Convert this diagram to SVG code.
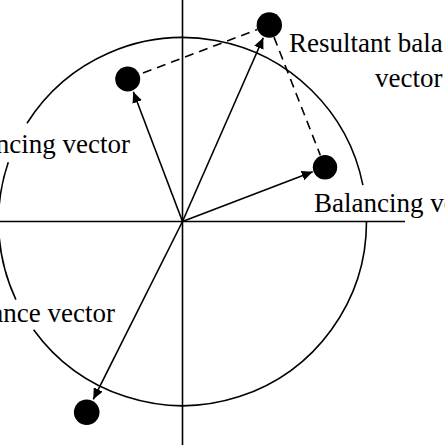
<svg xmlns="http://www.w3.org/2000/svg" width="445" height="445" viewBox="0 0 445 445">
<style>
.ax{stroke:#000;stroke-width:1.6;fill:none}
.circ{stroke:#000;stroke-width:1.6;fill:none}
.vec{stroke:#000;stroke-width:1.6;fill:none;marker-end:url(#ah)}
.dash{stroke:#000;stroke-width:1.6;fill:none;stroke-dasharray:9 6}
.dot{fill:#000}
.lbl{font-family:"Liberation Serif","Times New Roman",serif;font-size:27px;fill:#000}
</style>
<defs>
<marker id="ah" markerUnits="userSpaceOnUse" markerWidth="12" markerHeight="10" refX="11" refY="5" orient="auto">
<path d="M0,0 L11,5 L0,10 z" fill="#000"/>
</marker>
</defs>
<rect width="445" height="445" fill="#fff"/>
<g id="axes">
<line class="ax" x1="182.5" y1="0" x2="182.5" y2="445"/>
<line class="ax" x1="0" y1="221.5" x2="405" y2="221.5"/>
</g>
<g id="circle">
<path class="circ" d="M362.9 185.1 A184 184 0 0 0 27.0 123.2"/>
<path class="circ" d="M8.3 162.2 A184 184 0 0 0 15.9 299.6"/>
<path class="circ" d="M33.6 329.7 A184 184 0 0 0 366.5 221.5"/>
</g>
<g id="connectors">
<line class="vec" x1="182.5" y1="221.5" x2="133.3" y2="91.7"/>
<line class="vec" x1="182.5" y1="221.5" x2="263.3" y2="37.7"/>
<line class="vec" x1="182.5" y1="221.5" x2="312.7" y2="171.7"/>
<line class="vec" x1="182.5" y1="221.5" x2="93.3" y2="399.3"/>
<line class="dash" x1="143" y1="73" x2="257.2" y2="29.6"/>
<line class="dash" x1="274" y1="37.1" x2="320.3" y2="155.2"/>
</g>
<g id="resultant">
<circle class="dot" cx="269.3" cy="25" r="12.7"/>
<text class="lbl" x="289" y="51.7">Resultant bala</text>
<text class="lbl" x="375" y="87.3">vector</text>
</g>
<g id="balancing-left">
<circle class="dot" cx="127.7" cy="79" r="12.5"/>
<text class="lbl" x="130" y="153.3" text-anchor="end">ncing vector</text>
</g>
<g id="balancing-right">
<circle class="dot" cx="325" cy="167.3" r="12.2"/>
<text class="lbl" x="314" y="211.7">Balancing ve</text>
</g>
<g id="unbalance">
<circle class="dot" cx="86.7" cy="412.3" r="12.8"/>
<text class="lbl" x="115" y="321.7" text-anchor="end">ance vector</text>
</g>
</svg>
